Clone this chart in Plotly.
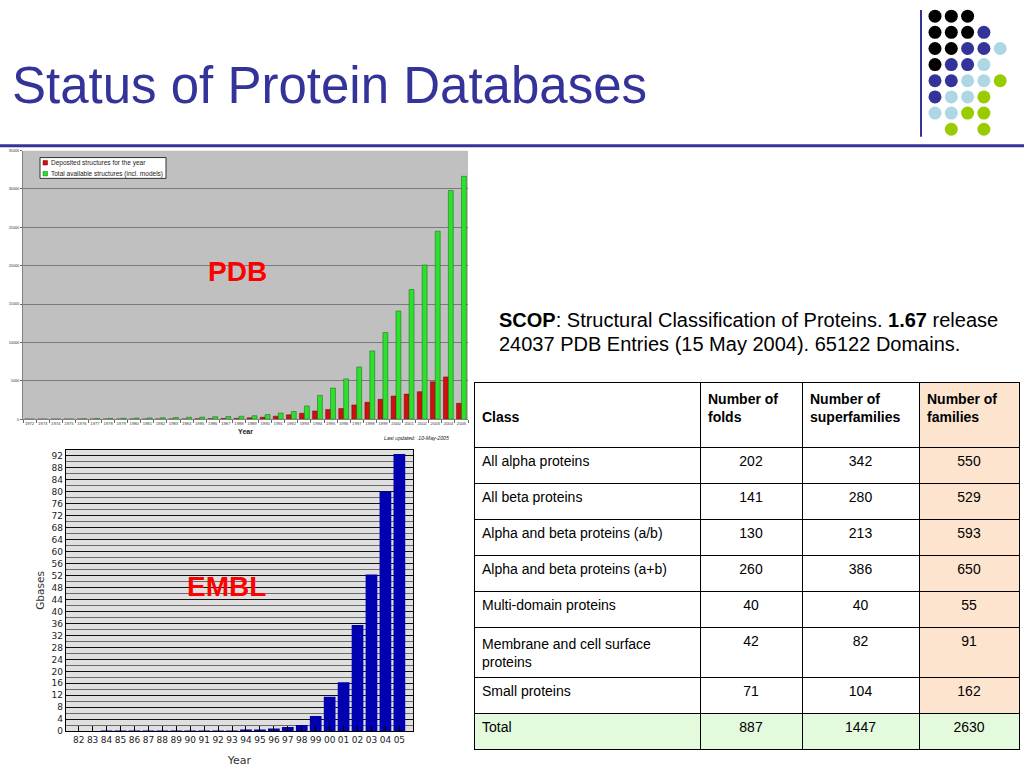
import plotly.graph_objects as go

W, H = 1024, 768
FONT = "Liberation Sans, Arial, sans-serif"

# ---------------- data ----------------
pdb_years = ["1972", "1973", "1974", "1975", "1976", "1977", "1978", "1979", "1980",
             "1981", "1982", "1983", "1984", "1985", "1986", "1987", "1988", "1989",
             "1990", "1991", "1992", "1993", "1994", "1995", "1996", "1997", "1998",
             "1999", "2000", "2001", "2002", "2003", "2004", "2005"]
pdb_deposited = [1, 3, 2, 5, 8, 10, 15, 18, 20, 25, 30, 35, 30, 40, 60, 70, 100, 170,
                 250, 390, 560, 770, 1070, 1250, 1380, 1850, 2200, 2580, 3010, 3270,
                 3580, 4870, 5510, 2070]
pdb_total = [10, 14, 18, 22, 60, 80, 100, 115, 140, 165, 190, 220, 250, 270, 320, 340,
             380, 450, 600, 800, 1000, 1720, 3100, 4050, 5250, 6800, 8900, 11300,
             14100, 16900, 20100, 24500, 29800, 31650]
pdb_series_names = ["Deposited structures for the year",
                    "Total available structures (incl. models)"]

embl_years = ["82", "83", "84", "85", "86", "87", "88", "89", "90", "91", "92", "93",
              "94", "95", "96", "97", "98", "99", "00", "01", "02", "03", "04", "05"]
embl_gbases = [0.0006, 0.001, 0.002, 0.003, 0.004, 0.007, 0.012, 0.02, 0.035, 0.05,
               0.08, 0.15, 0.35, 0.45, 0.9, 1.4, 2.1, 5.1, 11.5, 16.4, 35.5, 52.3,
               80.0, 92.5]

table_header = ["\u00a0<br>Class", "Number of<br>folds", "Number of<br>superfamilies",
                "Number of<br>families"]
scop_classes = ["All alpha proteins", "All beta proteins",
                "Alpha and beta proteins (a/b)", "Alpha and beta proteins (a+b)",
                "Multi-domain proteins", "Membrane and cell surface<br>proteins",
                "Small proteins", "Total"]
scop_folds = [202, 141, 130, 260, 40, 42, 71, 887]
scop_superfamilies = [342, 280, 213, 386, 40, 82, 104, 1447]
scop_families = [550, 529, 593, 650, 55, 91, 162, 2630]

dot_pattern = ["KKK", "KKKB", "KKBBL", "KBBL", "BBLLG", "BLLG", "LLGG", ".G.G"]
dot_colors = {"K": "#000000", "B": "#333399", "L": "#ADD8E3", "G": "#99CC00"}


def px_x(p):
    return p / W


def px_y(p):
    return 1 - p / H


fig = go.Figure()

# ---------------- PDB chart ----------------
fig.add_trace(go.Bar(x=pdb_years, y=pdb_deposited, name=pdb_series_names[0],
                     marker=dict(color="#D01010", line=dict(color="#700000", width=0.5)),
                     xaxis="x", yaxis="y", showlegend=False))
fig.add_trace(go.Bar(x=pdb_years, y=pdb_total, name=pdb_series_names[1],
                     marker=dict(color="#2EE02E", line=dict(color="#0A6A0A", width=0.5)),
                     xaxis="x", yaxis="y", showlegend=False))

# ---------------- EMBL chart ----------------
fig.add_trace(go.Bar(x=embl_years, y=embl_gbases, name="EMBL", width=0.84,
                     marker=dict(color="#0000B0", line=dict(width=0)),
                     xaxis="x2", yaxis="y2", showlegend=False))

# ---------------- decorative dots ----------------
dx, dy, dc = [], [], []
for r, row in enumerate(dot_pattern):
    for c, ch in enumerate(row):
        if ch in dot_colors:
            dx.append(c)
            dy.append(r)
            dc.append(dot_colors[ch])
fig.add_trace(go.Scatter(x=dx, y=dy, mode="markers", xaxis="x3", yaxis="y3",
                         marker=dict(size=13, color=dc, line=dict(width=0)),
                         showlegend=False, hoverinfo="skip"))

# ---------------- SCOP table ----------------
peach = "#FDE4CE"
green = "#E3FADC"
n = len(scop_classes)
white_col = ["white"] * (n - 1) + [green]
fam_col = [peach] * (n - 1) + [green]
fig.add_trace(go.Table(
    domain=dict(x=[px_x(474), px_x(1019)], y=[px_y(760), px_y(384)]),
    columnwidth=[226, 102, 117, 100],
    header=dict(values=["<b>%s</b>" % h for h in table_header],
                fill_color=["white", "white", "white", peach],
                line=dict(color="black", width=1),
                align="left",
                font=dict(family=FONT, size=14, color="black"),
                height=65),
    cells=dict(values=[scop_classes, scop_folds, scop_superfamilies, scop_families],
               fill_color=[white_col, white_col, white_col, fam_col],
               line=dict(color="black", width=1),
               align=["left", "center", "center", "center"],
               font=dict(family=FONT, size=14, color="black"),
               height=36),
))

shapes = [
    # PDB plot background
    dict(type="rect", xref="x domain", yref="y domain", x0=0, x1=1, y0=0, y1=1,
         fillcolor="#C0C0C0", line=dict(width=0), layer="below"),
    # EMBL plot background
    dict(type="rect", xref="x2 domain", yref="y2 domain", x0=0, x1=1, y0=0, y1=1,
         fillcolor="#E0E0E0", line=dict(width=0), layer="below"),
    # title rule
    dict(type="line", xref="paper", yref="paper", x0=0, x1=1, y0=px_y(145), y1=px_y(145),
         line=dict(color="#333399", width=3)),
    # vertical rule by the dots
    dict(type="line", xref="paper", yref="paper", x0=px_x(921), x1=px_x(921),
         y0=px_y(8), y1=px_y(136), line=dict(color="#333399", width=2)),
    # PDB legend box
    dict(type="rect", xref="paper", yref="paper", x0=px_x(40), x1=px_x(166),
         y0=px_y(178), y1=px_y(157), fillcolor="white", line=dict(color="#333", width=1)),
    dict(type="rect", xref="paper", yref="paper", x0=px_x(43), x1=px_x(47.5),
         y0=px_y(164.5), y1=px_y(160), fillcolor="#D01010", line=dict(color="#700000", width=0.5)),
    dict(type="rect", xref="paper", yref="paper", x0=px_x(43), x1=px_x(47.5),
         y0=px_y(175.5), y1=px_y(171), fillcolor="#2EE02E", line=dict(color="#0A6A0A", width=0.5)),
]

annotations = [
    dict(text="Status of Protein Databases", x=px_x(10), y=px_y(84), xref="paper",
         yref="paper", xanchor="left", yanchor="middle", showarrow=False,
         font=dict(family=FONT, size=51, color="#333399")),
    dict(text=pdb_series_names[0], x=px_x(48.5), y=px_y(162.3), xref="paper", yref="paper",
         xanchor="left", yanchor="middle", showarrow=False,
         font=dict(family=FONT, size=6.5, color="#222")),
    dict(text=pdb_series_names[1], x=px_x(48.5), y=px_y(173.3), xref="paper", yref="paper",
         xanchor="left", yanchor="middle", showarrow=False,
         font=dict(family=FONT, size=6.5, color="#222")),
    dict(text="<i>Last updated:  10-May-2005</i>", x=px_x(382), y=px_y(440.5), xref="paper",
         yref="paper", xanchor="left", yanchor="middle", showarrow=False,
         font=dict(family=FONT, size=5.2, color="#222")),
    dict(text="<b>PDB</b>", x=px_x(237.5), y=px_y(272), xref="paper", yref="paper",
         xanchor="center", yanchor="middle", showarrow=False,
         font=dict(family=FONT, size=28, color="#FF0000")),
    dict(text="<b>EMBL</b>", x=px_x(226.5), y=px_y(590), xref="paper", yref="paper",
         xanchor="center", yanchor="middle", showarrow=False,
         font=dict(family=FONT, size=28, color="#FF0000")),
    dict(text="<b>SCOP</b>: Structural Classification of Proteins. <b>1.67</b> release",
         x=px_x(497), y=px_y(321), xref="paper", yref="paper", xanchor="left",
         yanchor="middle", showarrow=False, font=dict(family=FONT, size=20, color="black")),
    dict(text="24037 PDB Entries (15 May 2004). 65122 Domains.",
         x=px_x(497), y=px_y(345), xref="paper", yref="paper", xanchor="left",
         yanchor="middle", showarrow=False, font=dict(family=FONT, size=20, color="black")),
]

fig.update_layout(
    width=W, height=H, autosize=False,
    margin=dict(l=0, r=0, t=0, b=0),
    paper_bgcolor="white", plot_bgcolor="rgba(0,0,0,0)",
    barmode="group", bargap=0.25, bargroupgap=0,
    showlegend=False,
    font=dict(family=FONT),
    shapes=shapes, annotations=annotations,
    xaxis=dict(domain=[px_x(23), px_x(468)], anchor="y", type="category",
               tickfont=dict(size=4.2, color="#333"), tickangle=0,
               ticks="outside", ticklen=3, tickcolor="#666", tickson="boundaries",
               showline=True, linecolor="#808080", linewidth=1, showgrid=False,
               title=dict(text="<b>Year</b>", font=dict(size=7, color="#222"), standoff=3)),
    yaxis=dict(domain=[px_y(421), px_y(150)], anchor="x", range=[0, 35000], dtick=5000,
               tickformat="d", tickfont=dict(size=3.8, color="#333"),
               ticks="outside", ticklen=2, tickcolor="#666",
               showline=True, linecolor="#808080", linewidth=1,
               showgrid=True, gridcolor="#7A7A7A", gridwidth=1, zeroline=False),
    xaxis2=dict(domain=[px_x(65.7), px_x(413.3)], anchor="y2", type="category",
                range=[-0.93, 24.0], tickangle=0,
                tickfont=dict(family="DejaVu Sans", size=9, color="#222"),
                ticks="inside", ticklen=5, tickcolor="black", tickwidth=1,
                showline=True, mirror=True, linecolor="black", linewidth=1, showgrid=False,
                title=dict(text="Year", font=dict(family="DejaVu Sans", size=11, color="#333"),
                           standoff=12)),
    yaxis2=dict(domain=[px_y(736), px_y(451.7)], anchor="x2", range=[0, 94], dtick=4,
                tickfont=dict(family="DejaVu Sans", size=9, color="#222"),
                ticks="", showline=True, mirror=True, linecolor="black", linewidth=1,
                showgrid=True, gridcolor="#111", gridwidth=1, zeroline=False,
                minor=dict(dtick=2, showgrid=True, gridcolor="#6A6A6A", gridwidth=1),
                title=dict(text="Gbases", font=dict(family="DejaVu Sans", size=10.5, color="#333"),
                           standoff=4)),
    xaxis3=dict(domain=[px_x(926.85), px_x(1008.35)], anchor="y3", range=[-0.5, 4.5],
                visible=False, fixedrange=True),
    yaxis3=dict(domain=[px_y(136.55), px_y(6.15)], anchor="x3", range=[7.5, -0.5],
                visible=False, fixedrange=True),
)

fig.write_html("out.html", config={"displayModeBar": False},
               post_script="document.body.style.margin='0';document.body.style.overflow='hidden';")
